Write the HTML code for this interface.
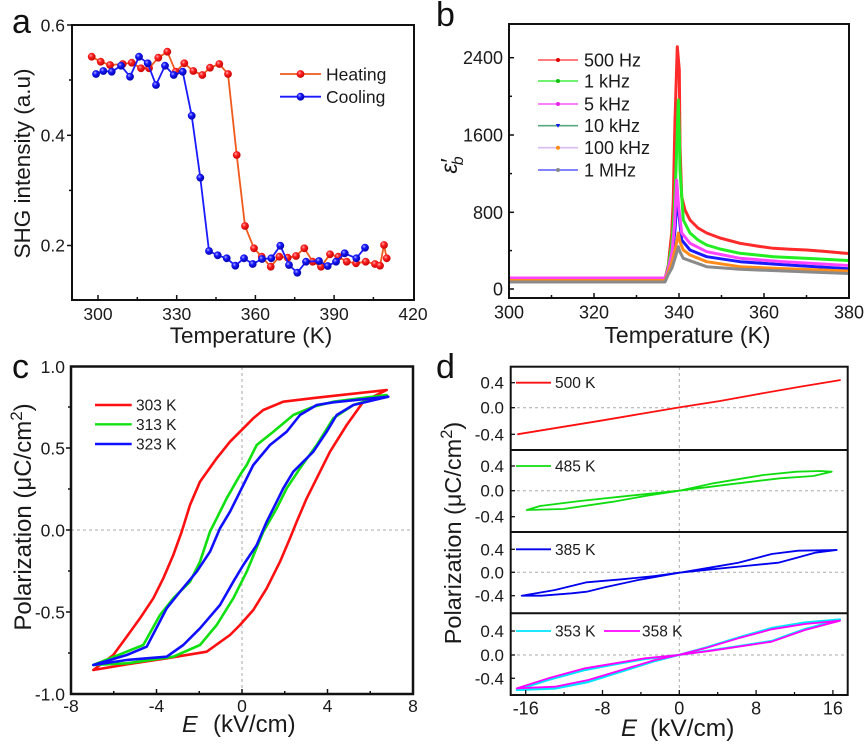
<!DOCTYPE html>
<html><head><meta charset="utf-8"><style>
html,body{margin:0;padding:0;background:#fff;}
svg{display:block;font-family:"Liberation Sans",Arial,sans-serif;}
</style></head><body>
<svg width="867" height="747" viewBox="0 0 867 747" xmlns="http://www.w3.org/2000/svg">
<defs>
<radialGradient id="gr" cx="0.38" cy="0.35" r="0.7"><stop offset="0" stop-color="#ffb0b0"/><stop offset="0.35" stop-color="#ff2020"/><stop offset="1" stop-color="#c00000"/></radialGradient>
<radialGradient id="gb" cx="0.38" cy="0.35" r="0.7"><stop offset="0" stop-color="#b0b0ff"/><stop offset="0.35" stop-color="#1818ff"/><stop offset="1" stop-color="#0000a0"/></radialGradient>
</defs>
<rect width="867" height="747" fill="#fff"/>

<!-- ============ PANEL A ============ -->
<text x="12" y="33" font-size="34" fill="#111">a</text>
<g stroke="#111" stroke-width="1.5">
<line x1="72" y1="25" x2="67" y2="25"/><line x1="72" y1="135.3" x2="67" y2="135.3"/><line x1="72" y1="245.5" x2="67" y2="245.5"/>
<line x1="72" y1="80" x2="69" y2="80"/><line x1="72" y1="190.4" x2="69" y2="190.4"/>
<line x1="98" y1="300" x2="98" y2="295"/><line x1="176.7" y1="300" x2="176.7" y2="295"/><line x1="255.4" y1="300" x2="255.4" y2="295"/><line x1="334.1" y1="300" x2="334.1" y2="295"/>
<line x1="137.3" y1="300" x2="137.3" y2="297"/><line x1="216" y1="300" x2="216" y2="297"/><line x1="294.7" y1="300" x2="294.7" y2="297"/><line x1="373.4" y1="300" x2="373.4" y2="297"/>
</g>
<g font-size="17.5" fill="#1a1a1a" text-anchor="end">
<text x="65" y="31.5">0.6</text><text x="65" y="141.5">0.4</text><text x="65" y="251.5">0.2</text>
</g>
<g font-size="17.5" fill="#1a1a1a" text-anchor="middle">
<text x="98" y="320">300</text><text x="176.7" y="320">330</text><text x="255.4" y="320">360</text><text x="334.1" y="320">390</text><text x="413" y="320">420</text>
</g>
<text x="251" y="343" font-size="22.5" fill="#1a1a1a" text-anchor="middle">Temperature (K)</text>
<text transform="translate(30,163.5) rotate(-90)" font-size="22.5" fill="#1a1a1a" text-anchor="middle">SHG intensity (a.u)</text>

<polyline fill="none" stroke="#ef5a1c" stroke-width="1.8" stroke-linejoin="round" points="91.7,56.7 100.7,61.7 110,65 122.7,64 131.7,62.7 141,68.3 149,68.3 158.3,57.7 167.3,51.7 175.7,71.7 184.3,63.3 193.3,71 202.3,75 210,67.7 219.3,64 228,74 236.7,155 245,226 254,248.3 261.7,256.7 270.7,266.7 279.3,256.7 287.7,257.7 296,256 304.3,248.3 312.7,261.7 321,266.7 330,254.3 338.3,256.7 346.7,261.7 356,263.3 365.7,261.7 375,264 380,265.7 384,245 386.7,258.3"/>
<g fill="url(#gr)">
<circle cx="91.7" cy="56.7" r="3.9"/><circle cx="100.7" cy="61.7" r="3.9"/><circle cx="110" cy="65" r="3.9"/><circle cx="122.7" cy="64" r="3.9"/><circle cx="131.7" cy="62.7" r="3.9"/><circle cx="141" cy="68.3" r="3.9"/><circle cx="149" cy="68.3" r="3.9"/><circle cx="158.3" cy="57.7" r="3.9"/><circle cx="167.3" cy="51.7" r="3.9"/><circle cx="175.7" cy="71.7" r="3.9"/><circle cx="184.3" cy="63.3" r="3.9"/><circle cx="193.3" cy="71" r="3.9"/><circle cx="202.3" cy="75" r="3.9"/><circle cx="210" cy="67.7" r="3.9"/><circle cx="219.3" cy="64" r="3.9"/><circle cx="228" cy="74" r="3.9"/><circle cx="236.7" cy="155" r="3.9"/><circle cx="245" cy="226" r="3.9"/><circle cx="254" cy="248.3" r="3.9"/><circle cx="261.7" cy="256.7" r="3.9"/><circle cx="270.7" cy="266.7" r="3.9"/><circle cx="279.3" cy="256.7" r="3.9"/><circle cx="287.7" cy="257.7" r="3.9"/><circle cx="296" cy="256" r="3.9"/><circle cx="304.3" cy="248.3" r="3.9"/><circle cx="312.7" cy="261.7" r="3.9"/><circle cx="321" cy="266.7" r="3.9"/><circle cx="330" cy="254.3" r="3.9"/><circle cx="338.3" cy="256.7" r="3.9"/><circle cx="346.7" cy="261.7" r="3.9"/><circle cx="356" cy="263.3" r="3.9"/><circle cx="365.7" cy="261.7" r="3.9"/><circle cx="375" cy="264" r="3.9"/><circle cx="380" cy="265.7" r="3.9"/><circle cx="384" cy="245" r="3.9"/><circle cx="386.7" cy="258.3" r="3.9"/>
</g>
<polyline fill="none" stroke="#1a1aff" stroke-width="1.8" stroke-linejoin="round" points="96,74 103.3,71 111.7,71.7 121,65.7 130,76.7 139,56.7 147.7,63.3 156,85 165,65.7 173.7,75 182.7,71.7 191.7,115.7 200.3,177.7 209,251 217.7,255.3 226.7,258.3 235.3,265.7 244,258.3 252.7,264 262,259 271.3,258.3 280.3,245.7 289,265 297.3,272.7 306,261.7 319,261 327.7,266 336,261.7 344.7,253.3 356.3,258.3 365,247.7"/>
<g fill="url(#gb)">
<circle cx="96" cy="74" r="3.9"/><circle cx="103.3" cy="71" r="3.9"/><circle cx="111.7" cy="71.7" r="3.9"/><circle cx="121" cy="65.7" r="3.9"/><circle cx="130" cy="76.7" r="3.9"/><circle cx="139" cy="56.7" r="3.9"/><circle cx="147.7" cy="63.3" r="3.9"/><circle cx="156" cy="85" r="3.9"/><circle cx="165" cy="65.7" r="3.9"/><circle cx="173.7" cy="75" r="3.9"/><circle cx="182.7" cy="71.7" r="3.9"/><circle cx="191.7" cy="115.7" r="3.9"/><circle cx="200.3" cy="177.7" r="3.9"/><circle cx="209" cy="251" r="3.9"/><circle cx="217.7" cy="255.3" r="3.9"/><circle cx="226.7" cy="258.3" r="3.9"/><circle cx="235.3" cy="265.7" r="3.9"/><circle cx="244" cy="258.3" r="3.9"/><circle cx="252.7" cy="264" r="3.9"/><circle cx="262" cy="259" r="3.9"/><circle cx="271.3" cy="258.3" r="3.9"/><circle cx="280.3" cy="245.7" r="3.9"/><circle cx="289" cy="265" r="3.9"/><circle cx="297.3" cy="272.7" r="3.9"/><circle cx="306" cy="261.7" r="3.9"/><circle cx="319" cy="261" r="3.9"/><circle cx="327.7" cy="266" r="3.9"/><circle cx="336" cy="261.7" r="3.9"/><circle cx="344.7" cy="253.3" r="3.9"/><circle cx="356.3" cy="258.3" r="3.9"/><circle cx="365" cy="247.7" r="3.9"/>
</g>
<line x1="280" y1="74" x2="321" y2="74" stroke="#ef5a1c" stroke-width="1.8"/><circle cx="300.5" cy="74" r="3.9" fill="url(#gr)"/>
<text x="326" y="80.5" font-size="17.5" fill="#1a1a1a">Heating</text>
<line x1="280" y1="96.7" x2="321" y2="96.7" stroke="#1a1aff" stroke-width="1.8"/><circle cx="300.5" cy="96.7" r="3.9" fill="url(#gb)"/>
<text x="326" y="103" font-size="17.5" fill="#1a1a1a">Cooling</text>
<rect x="72" y="25" width="342" height="275" fill="none" stroke="#111" stroke-width="2"/>

<!-- ============ PANEL B ============ -->
<text x="436" y="26" font-size="34" fill="#111">b</text>
<g fill="none" stroke-width="3" stroke-linejoin="round">
<polyline stroke="#ff2a2a" points="510,279 665,279 668.3,265 671.7,233 673.3,200 675,120 677.3,46.7 679.3,70 680,146.7 681.7,196.7 685,210 690,220 698,228 706.7,233 720,238 740,243.3 760,246.5 773.3,248.3 790,249.3 806.7,250 826,251.5 848,253.5"/>
<polyline stroke="#22ee22" points="510,279 665,279 668,268 671.7,245 674,215 676,170 678.3,100 679.5,140 680,170 683.3,220 690,233 698,240 706.7,245 720,249 740,253.3 773.3,256.7 810,258.5 848,260.5"/>
<polyline stroke="#1a1aff" points="510,279 665,279 668,271 672,255 675,230 677.3,193 679,215 681.7,240 690,250 706.7,256.7 740,261.7 780,264.5 848,268.8"/>
<polyline stroke="#ff44ff" points="510,278 665,278 668,270 672,252 674.5,225 676.7,180 678.5,205 681.7,233 690,243.3 706.7,251.7 740,258.3 780,261.5 848,265.5"/>
<polyline stroke="#ff8c1a" points="510,280.5 665,280.5 668,273 672,262 675.5,248 678.3,233 680,242 683.3,250 690,255 706.7,261.7 740,266.7 780,268.5 848,271"/>
<polyline stroke="#8a8a8a" points="510,282 665,282 668,275 672,268 676,255 678.3,246.7 680,252 683.3,258.3 706.7,266.7 740,269.3 848,273.5"/>
</g>
<g stroke="#111" stroke-width="1.5">
<line x1="509" y1="289" x2="514" y2="289"/><line x1="509" y1="212.3" x2="514" y2="212.3"/><line x1="509" y1="135" x2="514" y2="135"/><line x1="509" y1="57.7" x2="514" y2="57.7"/>
<line x1="509" y1="250.6" x2="512" y2="250.6"/><line x1="509" y1="173.6" x2="512" y2="173.6"/><line x1="509" y1="96.3" x2="512" y2="96.3"/>
<line x1="594" y1="298" x2="594" y2="293"/><line x1="679" y1="298" x2="679" y2="293"/><line x1="764" y1="298" x2="764" y2="293"/>
<line x1="551.5" y1="298" x2="551.5" y2="295"/><line x1="636.5" y1="298" x2="636.5" y2="295"/><line x1="721.5" y1="298" x2="721.5" y2="295"/><line x1="806.5" y1="298" x2="806.5" y2="295"/>
</g>
<g font-size="18" fill="#1a1a1a" text-anchor="end">
<text x="503" y="64">2400</text><text x="503" y="141.5">1600</text><text x="503" y="218.8">800</text><text x="503" y="295.5">0</text>
</g>
<g font-size="18" fill="#1a1a1a" text-anchor="middle">
<text x="509" y="318.5">300</text><text x="594" y="318.5">320</text><text x="679" y="318.5">340</text><text x="764" y="318.5">360</text><text x="849" y="318.5">380</text>
</g>
<text x="687.5" y="343" font-size="23" fill="#1a1a1a" text-anchor="middle">Temperature (K)</text>
<text transform="translate(457,165) rotate(-90)" font-size="23" font-style="italic" fill="#1a1a1a" text-anchor="middle">ε<tspan>′</tspan><tspan dx="-6" dy="6" font-size="16">b</tspan></text>
<g stroke-width="1.6">
<line x1="538" y1="60" x2="578" y2="60" stroke="#ff5050"/><line x1="538" y1="81" x2="578" y2="81" stroke="#44ee44"/><line x1="538" y1="104" x2="578" y2="104" stroke="#ff55ff"/><line x1="538" y1="125.7" x2="578" y2="125.7" stroke="#55aa80"/><line x1="538" y1="147.7" x2="578" y2="147.7" stroke="#d9bbee"/><line x1="538" y1="170" x2="578" y2="170" stroke="#5a5aff"/>
</g>
<circle cx="558" cy="60" r="2" fill="#e00000"/><circle cx="558" cy="81" r="2" fill="#10c010"/><circle cx="558" cy="104" r="2" fill="#ee22ee"/><path d="M555.8,124 L560.2,124 L558,127.8 Z" fill="#1010ee"/><circle cx="558" cy="147.7" r="2" fill="#ff8c1a"/><circle cx="558" cy="170" r="2" fill="#888"/>
<g font-size="18" fill="#1a1a1a">
<text x="584" y="66.5">500 Hz</text><text x="584" y="87.5">1 kHz</text><text x="584" y="110.5">5 kHz</text><text x="584" y="132">10 kHz</text><text x="584" y="154">100 kHz</text><text x="584" y="176.5">1 MHz</text>
</g>
<rect x="509" y="24" width="340" height="274" fill="none" stroke="#111" stroke-width="2"/>

<!-- ============ PANEL C ============ -->
<text x="12" y="378" font-size="34" fill="#111">c</text>
<line x1="242" y1="367" x2="242" y2="694" stroke="#aaa" stroke-width="1" stroke-dasharray="3,3"/>
<line x1="71" y1="530" x2="413" y2="530" stroke="#aaa" stroke-width="1" stroke-dasharray="3,3"/>
<g fill="none" stroke-width="2.6" stroke-linejoin="round">
<path stroke="#ff1010" d="M386.7,390 L316.7,397.7 L283.3,401.7 L263.3,410 L253.3,418.3 L240,431.7 L230,441.7 L216.7,458.3 L200,481.7 L190,505 L181.7,531.7 L173.3,555 L163.3,578.3 L153.3,598.3 L140,618.3 L126.7,636.7 L113.3,655 L93.3,670 L133.3,663.3 L166.7,658.3 L206.7,651.7 L230,635 L240,625 L253.3,610 L266.7,588.3 L280,561.7 L290,538.3 L296.7,521.7 L306.7,498.3 L316.7,478.3 L330,451.7 L346.7,425 L363.3,401.7 Z"/>
<path stroke="#10e010" d="M386.7,395 L333.3,401.7 L313.3,406.7 L293.3,415 L273.3,431.7 L256.7,445 L246.7,465 L240,475 L226.7,498.3 L216.7,518.3 L210,531.7 L200,561.7 L190,581.7 L173.3,598.3 L160,615 L143.3,645 L93.3,665 L126.7,663.3 L173.3,656.7 L200,645 L216.7,625 L233.3,598.3 L246.7,571.7 L263.3,531.7 L276.7,508.3 L286.7,488.3 L300,468.3 L316.7,445 L333.3,418.3 L353.3,405 Z"/>
<path stroke="#1010ff" d="M388.3,396.7 L333.3,402.3 L316.7,405 L300,415 L286.7,431.7 L270,445 L253.3,465 L240,491.7 L230,511.7 L220,528.3 L210,551.7 L196.7,571.7 L180,591.7 L166.7,608.3 L146.7,646.7 L126.7,655 L93.3,665 L126.7,660 L166.7,656.7 L183.3,645 L200,628.3 L220,605 L233.3,581.7 L243.3,565 L256.7,545 L266.7,521.7 L276.7,501.7 L283.3,488.3 L293.3,471.7 L313.3,451.7 L326.7,431.7 L336.7,415 L353.3,405 Z"/>
</g>
<g stroke="#111" stroke-width="1.5">
<line x1="71" y1="448" x2="66" y2="448"/><line x1="71" y1="530" x2="66" y2="530"/><line x1="71" y1="612" x2="66" y2="612"/>
<line x1="71" y1="407" x2="68" y2="407"/><line x1="71" y1="489" x2="68" y2="489"/><line x1="71" y1="571" x2="68" y2="571"/><line x1="71" y1="653" x2="68" y2="653"/>
<line x1="156.5" y1="694" x2="156.5" y2="689"/><line x1="242" y1="694" x2="242" y2="689"/><line x1="327.5" y1="694" x2="327.5" y2="689"/>
<line x1="113.75" y1="694" x2="113.75" y2="691"/><line x1="199.25" y1="694" x2="199.25" y2="691"/><line x1="284.75" y1="694" x2="284.75" y2="691"/><line x1="370.25" y1="694" x2="370.25" y2="691"/>
</g>
<g font-size="17.5" fill="#1a1a1a" text-anchor="end">
<text x="65" y="373">1.0</text><text x="65" y="454.5">0.5</text><text x="65" y="536.5">0.0</text><text x="65" y="618.5">-0.5</text><text x="65" y="700.5">-1.0</text>
</g>
<g font-size="17.5" fill="#1a1a1a" text-anchor="middle">
<text x="71" y="712">-8</text><text x="156.5" y="712">-4</text><text x="242" y="712">0</text><text x="327.5" y="712">4</text><text x="413" y="712">8</text>
</g>
<text x="182" y="732" font-size="23.5" font-style="italic" fill="#1a1a1a">E</text>
<text x="213" y="732" font-size="24" fill="#1a1a1a">(kV/cm)</text>
<text transform="translate(31,517) rotate(-90)" font-size="24" fill="#1a1a1a" text-anchor="middle">Polarization (μC/cm<tspan dy="-9" font-size="17">2</tspan><tspan dy="9">)</tspan></text>
<line x1="95" y1="405" x2="131.7" y2="405" stroke="#ff1010" stroke-width="2.4"/>
<line x1="95" y1="424.3" x2="131.7" y2="424.3" stroke="#10e010" stroke-width="2.4"/>
<line x1="95" y1="444" x2="131.7" y2="444" stroke="#1010ff" stroke-width="2.4"/>
<g font-size="15.5" fill="#1a1a1a">
<text x="136" y="410.5">303 K</text><text x="136" y="430">313 K</text><text x="136" y="449.5">323 K</text>
</g>
<rect x="71" y="366.5" width="342" height="327.5" fill="none" stroke="#111" stroke-width="2.5"/>

<!-- ============ PANEL D ============ -->
<text x="436" y="378" font-size="34" fill="#111">d</text>
<g stroke="#aaa" stroke-width="1" stroke-dasharray="3,3">
<line x1="679.3" y1="367" x2="679.3" y2="695"/>
<line x1="511" y1="407.7" x2="847" y2="407.7"/><line x1="511" y1="490.7" x2="847" y2="490.7"/><line x1="511" y1="572.3" x2="847" y2="572.3"/><line x1="511" y1="655" x2="847" y2="655"/>
</g>
<g fill="none" stroke-width="1.8" stroke-linejoin="round">
<path stroke="#ff1010" d="M517.3,434.3 L560,427.3 L600,420.8 L640,414 L679.3,407.4 L720,401 L760,393.7 L800,386.8 L840.7,380"/>
<path stroke="#10dd10" d="M526.7,510 L540,506 L580,501 L630,495.7 L679.3,490.7 L713.3,483.3 L763.3,475 L796.7,471.7 L820,471 L831.7,471.7 L813.3,476 L780,478.3 L730,484.3 L679.3,490.7 L646.7,495.7 L613.3,501.7 L563.3,509 Z"/>
<path stroke="#0000ee" d="M521.7,595.7 L541.7,595.7 L571.7,593.3 L586.7,591.7 L605,587.3 L638.3,580 L679.3,572.7 L711.7,567.3 L738.3,562.7 L771.7,554 L798.3,550.7 L836.7,550 L815,552.7 L795,558.3 L778.3,562.7 L745,566 L711.7,569.3 L679.3,572.7 L655,576 L621.7,579.3 L586.7,582.3 L555,590 Z"/>
<path stroke="#00e5ff" stroke-width="2.2" d="M516.7,690 L548.3,680 L585,670 L615,664.3 L645,659 L678.3,655 L705,647.8 L738.3,637.5 L771.7,628 L805,622.5 L840,619.5 L805,629 L771.7,641 L738.3,646.2 L711.7,650.2 L678.3,655 L655,661 L621.7,671.5 L588.3,682 L555,688.5 Z"/>
<path stroke="#ff00ff" d="M516.7,688.3 L548.3,678.3 L585,668.3 L615,663.3 L645,658.3 L678.3,655 L705,648.3 L738.3,638.3 L771.7,629.3 L805,624 L840,620.7 L805,630 L771.7,641.7 L738.3,646.7 L711.7,650.7 L678.3,655 L655,660 L621.7,670 L588.3,680 L555,686.7 Z"/>
</g>
<g stroke="#111" stroke-width="1.3">
<line x1="511" y1="382.7" x2="515" y2="382.7"/><line x1="511" y1="407.7" x2="515" y2="407.7"/><line x1="511" y1="434.3" x2="515" y2="434.3"/>
<line x1="511" y1="466" x2="515" y2="466"/><line x1="511" y1="490.7" x2="515" y2="490.7"/><line x1="511" y1="516.7" x2="515" y2="516.7"/>
<line x1="511" y1="549.3" x2="515" y2="549.3"/><line x1="511" y1="572.3" x2="515" y2="572.3"/><line x1="511" y1="595.7" x2="515" y2="595.7"/>
<line x1="511" y1="631" x2="515" y2="631"/><line x1="511" y1="655" x2="515" y2="655"/><line x1="511" y1="678.3" x2="515" y2="678.3"/>
<line x1="525.7" y1="695" x2="525.7" y2="690"/><line x1="602.5" y1="695" x2="602.5" y2="690"/><line x1="679.3" y1="695" x2="679.3" y2="690"/><line x1="756.1" y1="695" x2="756.1" y2="690"/><line x1="832.9" y1="695" x2="832.9" y2="690"/>
<line x1="564.1" y1="695" x2="564.1" y2="692"/><line x1="640.9" y1="695" x2="640.9" y2="692"/><line x1="717.7" y1="695" x2="717.7" y2="692"/><line x1="794.5" y1="695" x2="794.5" y2="692"/>
</g>
<g stroke="#111" stroke-width="2" fill="none">
<rect x="510.7" y="366.7" width="337" height="328.3"/>
<line x1="510.7" y1="450" x2="847.7" y2="450"/><line x1="510.7" y1="532" x2="847.7" y2="532"/><line x1="510.7" y1="613.3" x2="847.7" y2="613.3"/>
</g>
<g font-size="17" fill="#1a1a1a" text-anchor="end">
<text x="504" y="388.7">0.4</text><text x="504" y="413.7">0.0</text><text x="504" y="440.3">-0.4</text>
<text x="504" y="472">0.4</text><text x="504" y="496.7">0.0</text><text x="504" y="522.7">-0.4</text>
<text x="504" y="555.3">0.4</text><text x="504" y="578.3">0.0</text><text x="504" y="601.7">-0.4</text>
<text x="504" y="637">0.4</text><text x="504" y="661">0.0</text><text x="504" y="684.3">-0.4</text>
</g>
<g font-size="18" fill="#1a1a1a" text-anchor="middle">
<text x="525.7" y="714.5">-16</text><text x="602.5" y="714.5">-8</text><text x="679.3" y="714.5">0</text><text x="756.1" y="714.5">8</text><text x="832.9" y="714.5">16</text>
</g>
<text x="621" y="736" font-size="24" font-style="italic" fill="#1a1a1a">E</text>
<text x="650" y="736" font-size="24.5" fill="#1a1a1a">(kV/cm)</text>
<text transform="translate(461,533) rotate(-90)" font-size="23.5" fill="#1a1a1a" text-anchor="middle">Polarization (μC/cm<tspan dy="-9" font-size="16.5">2</tspan><tspan dy="9">)</tspan></text>
<line x1="516" y1="382.7" x2="551" y2="382.7" stroke="#ff1010" stroke-width="1.8"/>
<line x1="516" y1="466" x2="551" y2="466" stroke="#10dd10" stroke-width="1.8"/>
<line x1="516" y1="549.3" x2="551" y2="549.3" stroke="#0000ee" stroke-width="1.8"/>
<line x1="516" y1="631" x2="551" y2="631" stroke="#00e5ff" stroke-width="1.8"/>
<line x1="604" y1="631" x2="640" y2="631" stroke="#ff00ff" stroke-width="1.8"/>
<g font-size="15.5" fill="#1a1a1a">
<text x="555" y="388.2">500 K</text><text x="555" y="471.5">485 K</text><text x="555" y="554.8">385 K</text><text x="555" y="636.5">353 K</text><text x="642" y="636.5">358 K</text>
</g>
</svg>
</body></html>
